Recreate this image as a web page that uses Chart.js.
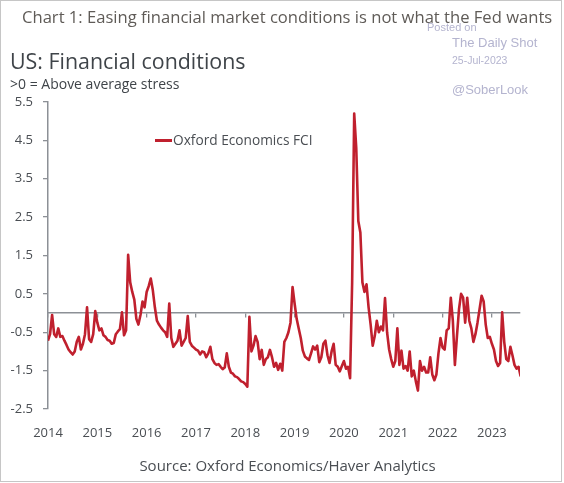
<!DOCTYPE html>
<html>
<head>
<meta charset="utf-8">
<script src="https://cdn.jsdelivr.net/npm/chart.js@4.4.1/dist/chart.umd.min.js"></script>
<style>
  html, body { margin: 0; padding: 0; background: #fff; }
  #wrap { position: relative; width: 564px; height: 483px; overflow: hidden; font-family: "Open Sans", sans-serif; }
  #frame { position: absolute; left: 0; top: 0; width: 560px; height: 480px; border: 1px solid #c6c6c6; }
  canvas { position: absolute; left: 0; top: 0; }
  .txt { position: absolute; white-space: nowrap; }
  #title { left: 22px; top: 5px; font-size: 16.6px; color: #5f5b57; }
  #heading { left: 10px; top: 46px; font-size: 21.4px; color: #3f4449; }
  #sub { left: 10px; top: 74px; font-size: 14px; color: #3f4449; }
  #legend { left: 155px; top: 130px; font-size: 13.7px; color: #4a4e53; }
  #legend span { display: inline-block; width: 17px; height: 2.5px; background: #c0202e; vertical-align: middle; margin-right: 1px; position: relative; top: -1px; }
  #source { left: 0; width: 575px; text-align: center; top: 455px; font-size: 15px; color: #4a4e53; }
  .wm { position: absolute; white-space: nowrap; font-family: "Liberation Sans", Arial, sans-serif; color: #b4b4cf; }
</style>
</head>
<body>
<div id="wrap">
  <canvas id="fciChart" width="564" height="483"></canvas>
  <div id="frame"></div>
  <div class="txt" id="title">Chart 1: Easing financial market conditions is not what the Fed wants</div>
  <div class="txt" id="heading">US: Financial conditions</div>
  <div class="txt" id="sub">&gt;0 = Above average stress</div>
  <div class="txt" id="legend"><span></span>Oxford Economics FCI</div>
  <div class="txt" id="source">Source: Oxford Economics/Haver Analytics</div>
  <div class="wm" style="left:427px;top:21px;font-size:11px;">Posted on</div>
  <div class="wm" style="left:452px;top:35px;font-size:13px;">The Daily Shot</div>
  <div class="wm" style="left:452px;top:54px;font-size:10.5px;">25-Jul-2023</div>
  <div class="wm" style="left:452px;top:82px;font-size:13px;">@SoberLook</div>
</div>
<script>
// Year tick labels
const years = [2014, 2015, 2016, 2017, 2018, 2019, 2020, 2021, 2022, 2023];

// Oxford Economics FCI, 24 readings per year (twice a month)
const fci2014 = [-0.72, -0.55, -0.05, -0.55, -0.62, -0.40, -0.62, -0.60, -0.72, -0.83, -0.95, -1.02,
                 -1.08, -1.00, -0.75, -0.62, -0.95, -0.80, -0.55, 0.15, -0.68, -0.75, -0.55, 0.05];
const fci2015 = [-0.25, -0.45, -0.40, -0.58, -0.62, -0.70, -0.72, -0.80, -0.78, -0.55, -0.48, -0.42,
                 0.02, -0.58, -0.45, 1.52, 0.80, 0.55, 0.35, -0.15, -0.30, -0.05, 0.30, 0.15];
const fci2016 = [0.55, 0.70, 0.90, 0.60, 0.15, -0.20, -0.30, -0.38, -0.45, -0.50, -0.62, 0.25,
                 -0.65, -0.88, -0.80, -0.72, -0.45, -0.85, -0.75, -0.65, -0.08, -0.75, -0.85, -0.90];
const fci2017 = [-0.95, -0.98, -1.08, -1.00, -1.02, -1.15, -1.05, -0.88, -1.20, -1.30, -1.35, -1.33,
                 -1.40, -1.46, -1.42, -1.05, -1.40, -1.55, -1.58, -1.65, -1.67, -1.72, -1.78, -1.80];
const fci2018 = [-1.85, -1.92, -0.10, -1.00, -0.85, -0.60, -0.75, -1.20, -0.96, -1.35, -1.20, -1.15,
                 -0.96, -1.15, -1.40, -1.30, -1.48, -1.32, -1.50, -0.75, -0.65, -0.50, -0.25, 0.68];
const fci2019 = [0.25, -0.15, -0.40, -0.65, -0.98, -1.13, -1.18, -1.22, -1.05, -0.87, -0.95, -0.85,
                 -1.28, -1.15, -0.80, -0.72, -1.10, -1.30, -1.00, -0.80, -1.35, -1.40, -1.52, -1.38];
const fci2020 = [-1.25, -1.45, -1.40, -1.70, 0.80, 5.20, 4.30, 2.40, 2.10, 0.80, 0.55, 0.75,
                 0.15, -0.30, -0.85, -0.60, -0.20, -0.50, -0.35, -0.45, 0.39, -0.50, -0.95, -1.20];
const fci2021 = [-1.40, -1.25, -0.40, -1.35, -0.98, -1.45, -1.38, -1.50, -1.00, -1.65, -1.50, -1.78,
                 -2.02, -1.25, -1.50, -1.40, -1.55, -1.55, -1.15, -1.60, -1.75, -1.60, -1.05, -0.65];
const fci2022 = [-0.90, -0.95, -0.45, -0.40, 0.40, -0.20, -1.35, -0.60, 0.10, 0.50, 0.40, -0.25,
                 0.40, -0.20, -0.40, -0.75, -0.55, -0.25, 0.10, 0.45, 0.30, -0.30, -0.65, -0.62];
const fci2023 = [-0.80, -0.95, -1.25, -1.38, -1.30, 0.02, -0.75, -1.20, -1.25, -0.88, -1.10, -1.35,
                 -1.45, -1.40, -1.65];

const fciByYear = [fci2014, fci2015, fci2016, fci2017, fci2018, fci2019, fci2020, fci2021, fci2022, fci2023];

// Turn the yearly lists into {x: decimal year, y: value} points
const points = [];
fciByYear.forEach((vals, k) => {
    vals.forEach((v, i) => points.push({ x: years[k] + i / 24, y: v }));
});

const axisGray = "#8c9096";
const labelColor = "#4a4e53";
const xMin = 2014, xMax = 2023.57;

function yearTicks(scale) {
    scale.ticks = years.map(y => ({ value: y }));
}

new Chart(document.getElementById("fciChart"), {
    type: "line",
    data: {
        datasets: [{
            label: "Oxford Economics FCI",
            data: points,
            borderColor: "#c0202e",
            borderWidth: 2.6,
            borderJoinStyle: "round",
            pointRadius: 0,
            tension: 0
        }]
    },
    options: {
        responsive: false,
        animation: false,
        devicePixelRatio: 1,
        layout: { padding: { top: 102, right: 44, bottom: 44, left: 0 } },
        plugins: { legend: { display: false }, tooltip: { enabled: false } },
        scales: {
            x: {
                type: "linear", min: xMin, max: xMax,
                grid: { display: false, drawTicks: false },
                border: { display: false },
                afterBuildTicks: yearTicks,
                afterFit: s => { s.height = 30; },
                ticks: {
                    padding: 16, maxRotation: 0, autoSkip: false,
                    color: labelColor, font: { family: "Open Sans", size: 13 },
                    callback: v => String(v)
                }
            },
            x0: {
                type: "linear", axis: "x", min: xMin, max: xMax,
                position: { y: 0 },
                afterBuildTicks: yearTicks,
                grid: { drawOnChartArea: false, drawTicks: true, tickLength: 4, color: axisGray, lineWidth: 1.3 },
                border: { color: axisGray, width: 1.5 },
                ticks: { display: false }
            },
            y: {
                min: -2.5, max: 5.5,
                afterFit: s => { s.width = 48; },
                grid: { drawOnChartArea: false, drawTicks: true, tickLength: 5, color: axisGray, lineWidth: 1.3 },
                border: { color: axisGray, width: 1.5 },
                ticks: {
                    stepSize: 1, padding: 10,
                    color: labelColor, font: { family: "Open Sans", size: 13 },
                    callback: v => v.toFixed(1)
                }
            }
        }
    }
});
</script>
</body>
</html>
